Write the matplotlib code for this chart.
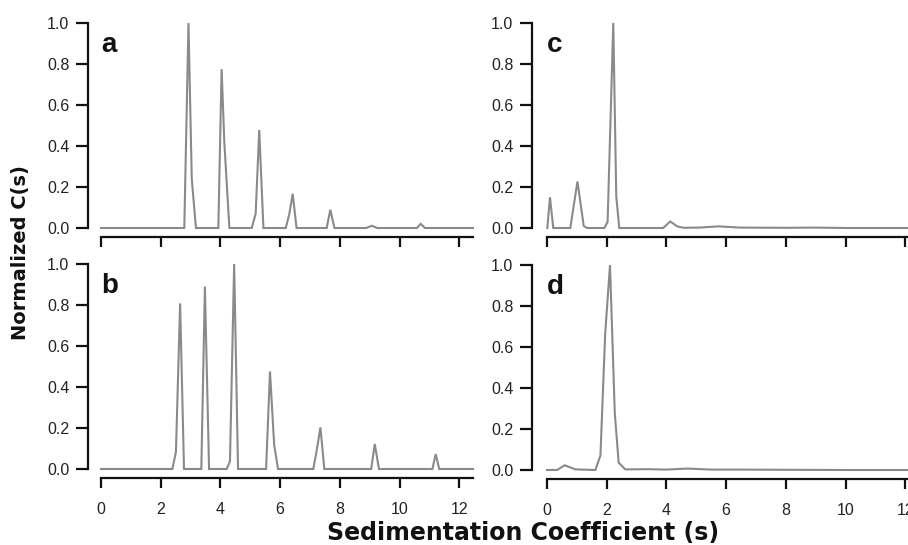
import matplotlib
matplotlib.use("Agg")
import matplotlib.pyplot as plt
from matplotlib.ticker import FormatStrFormatter

# ---- data (sedimentation coefficient s, normalized c(s)) ----
a_s = [0, 2.79, 2.93, 3.04, 3.18, 3.93, 4.04, 4.13, 4.30, 5.05, 5.18, 5.30, 5.44,
       6.19, 6.31, 6.42, 6.55, 7.56, 7.68, 7.82, 8.88, 9.07, 9.25, 10.58, 10.71, 10.85, 12.46]
a_c = [0, 0, 1.0, 0.24, 0, 0, 0.775, 0.42, 0, 0, 0.07, 0.478, 0,
       0, 0.07, 0.167, 0, 0, 0.089, 0, 0, 0.011, 0, 0, 0.02, 0, 0]

b_s = [0, 2.39, 2.51, 2.65, 2.78, 3.36, 3.48, 3.62, 4.21, 4.32, 4.46, 4.59,
       5.53, 5.66, 5.80, 5.93, 7.11, 7.22, 7.35, 7.48, 9.05, 9.17, 9.31,
       11.10, 11.21, 11.33, 12.46]
b_c = [0, 0, 0.083, 0.808, 0, 0, 0.89, 0, 0, 0.037, 1.0, 0,
       0, 0.476, 0.118, 0, 0, 0.086, 0.203, 0, 0, 0.122, 0,
       0, 0.073, 0, 0]

c_s = [0.01, 0.10, 0.21, 0.78, 1.02, 1.23, 1.34, 1.92, 2.03, 2.22, 2.32, 2.42,
       3.89, 4.13, 4.36, 4.58, 5.10, 5.74, 6.47, 8.0, 9.0, 10.0, 12.46]
c_c = [0, 0.15, 0, 0, 0.227, 0.01, 0, 0, 0.03, 1.0, 0.154, 0,
       0, 0.032, 0.008, 0.001, 0.002, 0.008, 0.002, 0.001, 0.002, 0.0, 0.0]

d_s = [0, 0.34, 0.59, 0.95, 1.62, 1.79, 1.95, 2.11, 2.27, 2.40, 2.62,
       3.40, 4.00, 4.71, 5.50, 6.50, 8.00, 10.0, 12.46]
d_c = [0, 0, 0.023, 0.003, 0, 0.071, 0.668, 1.0, 0.279, 0.036, 0.003,
       0.004, 0.002, 0.007, 0.002, 0.002, 0.001, 0.0, 0.0]

panel_labels = ["a", "b", "c", "d"]
x_ticks = [0, 2, 4, 6, 8, 10, 12]
y_ticks = [0.0, 0.2, 0.4, 0.6, 0.8, 1.0]

W, H = 908, 545
fig = plt.figure(figsize=(W / 100, H / 100), dpi=100)

def fx(px):
    return px / W

def fy(py):
    return 1 - py / H

axw = 372
axh = 205
pos = {
    "a": (101, 228, 13),
    "b": (101, 469, 13),
    "c": (547, 228, 15),
    "d": (547, 470, 15),
}
data = {"a": (a_s, a_c), "b": (b_s, b_c), "c": (c_s, c_c), "d": (d_s, d_c)}

tick_font = {"family": "Liberation Sans", "size": 11.5}

for lab in panel_labels:
    x0, ybot, yoff = pos[lab]
    ax = fig.add_axes([fx(x0), fy(ybot), axw / W, axh / H])
    s, c = data[lab]
    ax.plot(s, c, color="#8a8a8a", lw=1.5, clip_on=False, solid_joinstyle="miter")
    ax.set_xlim(0, 12.46)
    ax.set_ylim(0, 1.0)
    for sp in ("top", "right"):
        ax.spines[sp].set_visible(False)
    ax.spines["left"].set_position(("outward", yoff * 0.72))
    ax.spines["bottom"].set_position(("outward", 9 * 0.72))
    for sp in ("left", "bottom"):
        ax.spines[sp].set_linewidth(1.6)
        ax.spines[sp].set_color("#111111")
    ax.set_xticks(x_ticks)
    ax.set_yticks(y_ticks)
    ax.yaxis.set_major_formatter(FormatStrFormatter("%.1f"))
    ax.tick_params(axis="both", direction="out", width=1.6,
                   color="#111111", labelcolor="#222222")
    ax.tick_params(axis="y", length=8.5, pad=5)
    ax.tick_params(axis="x", length=7, pad=10)
    for t in ax.get_xticklabels() + ax.get_yticklabels():
        t.set_fontfamily(tick_font["family"])
        t.set_fontsize(tick_font["size"])
    if lab in ("a", "c"):
        ax.tick_params(axis="x", labelbottom=False)
    ax.patch.set_visible(False)
    ax.text(0.0, 0.955, lab, transform=ax.transAxes, ha="left", va="top",
            fontsize=20, fontweight="bold", family="Liberation Sans", color="#111111")

fig.text(fx(523), fy(533), "Sedimentation Coefficient (s)", ha="center", va="center",
         fontsize=17, fontweight="bold", family="DejaVu Sans", color="#111111")
fig.text(fx(21), fy(253), "Normalized C(s)", ha="center", va="center", rotation=90,
         fontsize=14, fontweight="bold", family="DejaVu Sans", color="#111111")

fig.savefig("out.png", dpi=100)
